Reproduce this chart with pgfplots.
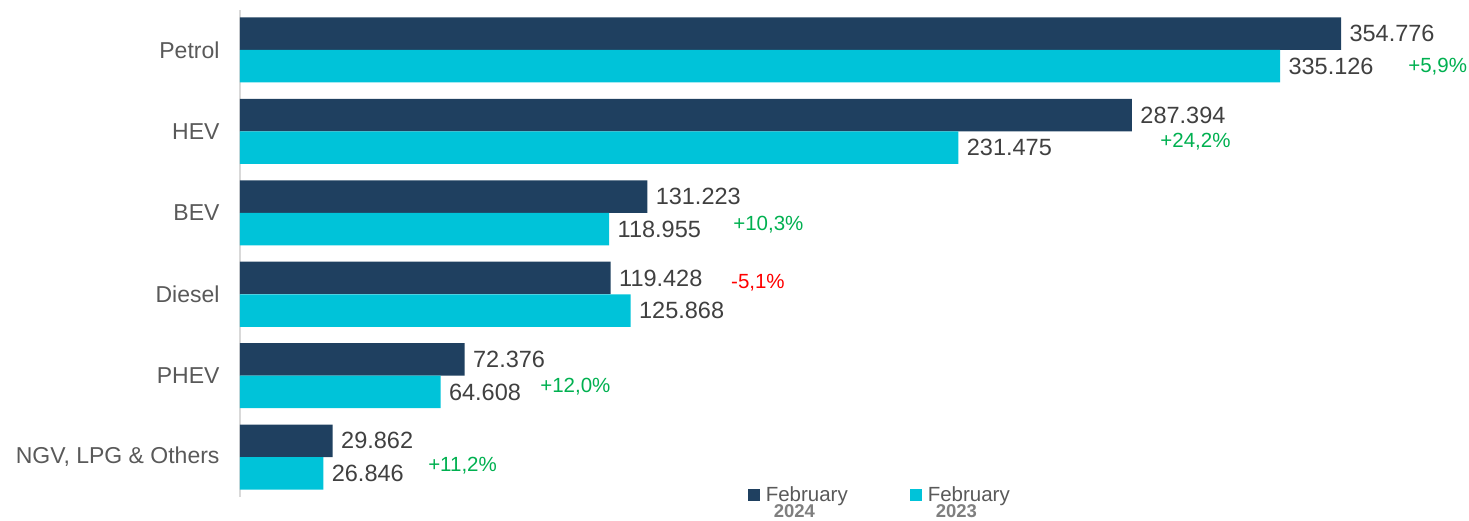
\documentclass[border=0pt]{standalone}
\usepackage{pgfplots}
\pgfplotsset{compat=1.18}
\usepackage{fontspec}
\setmainfont{Liberation Sans}
\definecolor{dark}{RGB}{31,64,96}
\definecolor{cyanb}{RGB}{0,195,217}
\definecolor{pgreen}{RGB}{0,176,80}
\definecolor{pred}{RGB}{255,0,0}
\definecolor{lbl}{RGB}{64,64,64}
\definecolor{cat}{RGB}{89,89,89}
\definecolor{yr}{RGB}{127,127,127}
\begin{document}
\begin{tikzpicture}
\begin{axis}[name=ax, at={(0,0)}, anchor=north west,
  scale only axis, width=1229pt, height=487pt,
  xmin=0, xmax=396, ymin=-0.49, ymax=5.49, y dir=reverse,
  axis x line=none, axis y line*=left,
  y axis line style={draw=black!15, line width=1.5pt, -},
  ytick={0,...,5},
  yticklabels={Petrol,HEV,BEV,Diesel,PHEV,{NGV, LPG \& Others}},
  major tick length=0pt,
  yticklabel style={font=\fontsize{23}{26}\selectfont, text=cat, xshift=-17pt},
  xbar, bar width=32.5pt,
  nodes near coords={\pgfmathprintnumber[fixed,fixed zerofill,precision=3,assume math mode=true]{\pgfplotspointmeta}},
  nodes near coords style={font=\fontsize{23.5}{26}\selectfont, text=lbl, anchor=west, xshift=5pt},
  legend columns=2,
  legend style={at={(rel axis cs:0.413,0.026)}, anchor=north west, draw=none, fill=none,
    inner sep=0pt, font=\fontsize{20.5}{22}\selectfont, text=cat,
    /tikz/every odd column/.append style={column sep=4pt},
    /tikz/every even column/.append style={column sep=60pt}},
  legend image code/.code={\path[#1] (0pt,-6pt) rectangle (12pt,6pt);},
]
\addplot[fill=dark, draw=none, bar shift=0pt] coordinates {(354.776,-0.2) (287.394,0.8) (131.223,1.8) (119.428,2.8) (72.376,3.8) (29.862,4.8)};
\addplot[fill=cyanb, draw=none, bar shift=0pt] coordinates {(335.126,0.2) (231.475,1.2) (118.955,2.2) (125.868,3.2) (64.608,4.2) (26.846,5.2)};
\legend{{\begin{tabular}[t]{@{}l@{}}February\\[-6.5pt]\hspace{8pt}{\color{yr}\fontsize{18.5}{19}\selectfont\bfseries 2024}\end{tabular}},
        {\begin{tabular}[t]{@{}l@{}}February\\[-6.5pt]\hspace{8pt}{\color{yr}\fontsize{18.5}{19}\selectfont\bfseries 2023}\end{tabular}}}
\begin{scope}[every node/.style={font=\fontsize{20.5}{24}\selectfont, anchor=west, inner sep=0pt}]
\node[text=pgreen] at (axis cs:376.4,0.2) {+5,9\%};
\node[text=pgreen] at (axis cs:296.5,1.13) {+24,2\%};
\node[text=pgreen] at (axis cs:158.9,2.14) {+10,3\%};
\node[text=pred] at (axis cs:158.2,2.86) {-5,1\%};
\node[text=pgreen] at (axis cs:96.7,4.13) {+12,0\%};
\node[text=pgreen] at (axis cs:60.6,5.11) {+11,2\%};
\end{scope}
\end{axis}
\pgfresetboundingbox
\path (-240pt,10pt) rectangle (1229pt,-510pt);
\end{tikzpicture}
\end{document}
